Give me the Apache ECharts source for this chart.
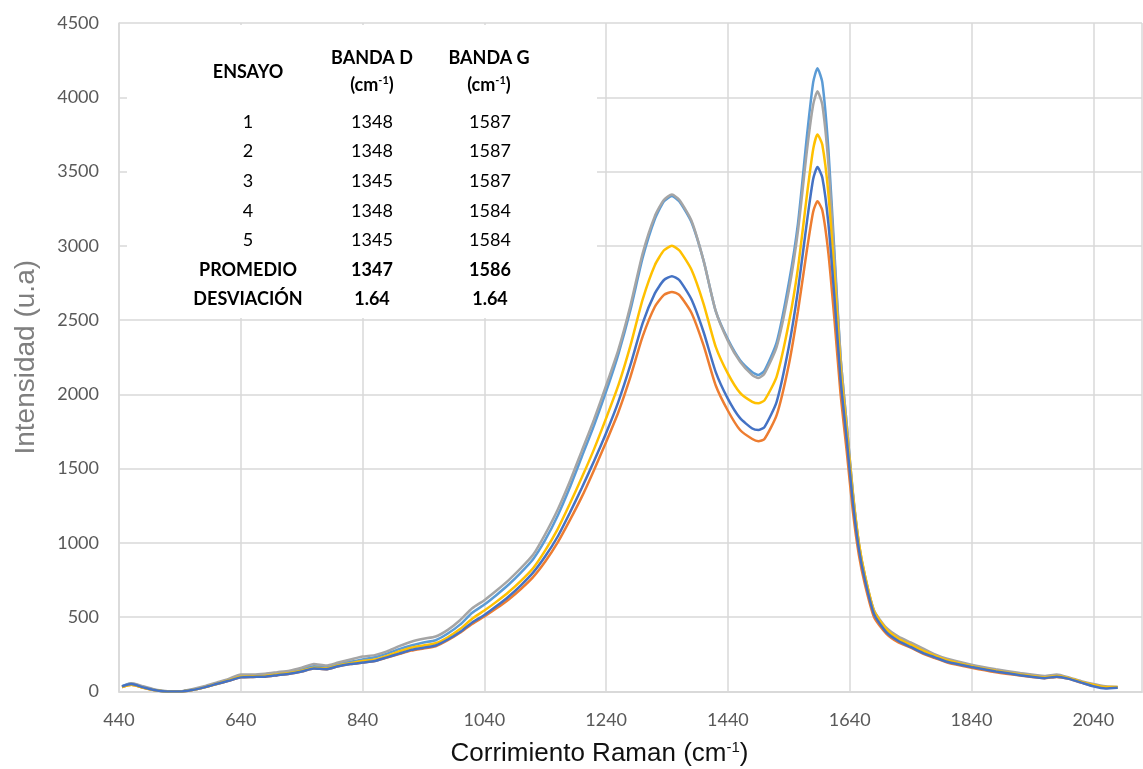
<!DOCTYPE html>
<html>
<head>
<meta charset="utf-8">
<title>Raman</title>
<style>
html, body { margin: 0; padding: 0; background: #ffffff; }
#chart { width: 1143px; height: 769px; }
</style>
</head>
<body>
<div id="chart"></div>
<script src="https://cdn.jsdelivr.net/npm/echarts@6/dist/echarts.min.js"></script>
<script>
// wavenumber (cm-1), shared by all runs
var xs = [445,460,480,500,520,540,560,580,600,620,
  640,660,680,700,720,740,760,780,800,820,
  840,860,880,900,920,940,960,980,1000,1020,
  1040,1060,1080,1100,1120,1140,1160,1180,1200,1220,
  1240,1260,1280,1300,1320,1335,1348,1360,1380,1400,
  1420,1440,1460,1480,1490,1500,1520,1540,1555,1570,
  1580,1587,1595,1605,1615,1625,1635,1645,1655,1665,
  1680,1700,1720,1740,1760,1780,1800,1840,1880,1920,
  1960,1980,2000,2020,2040,2060,2080];

var orange = [30,45,25,8,0,0,10,28,50,72,
  95,98,100,110,120,135,155,150,170,185,
  195,205,228,252,275,290,305,345,395,455,
  505,560,620,690,770,875,1000,1150,1310,1490,
  1680,1880,2120,2390,2590,2670,2690,2670,2550,2330,
  2060,1890,1760,1700,1685,1700,1860,2200,2560,2980,
  3230,3300,3240,2950,2500,2000,1620,1220,920,720,
  500,390,330,295,255,225,195,160,130,108,
  90,98,85,60,38,25,28];

var gris = [30,55,35,12,2,0,15,35,60,85,
  115,115,120,130,140,160,185,175,195,215,
  235,245,270,305,335,355,370,415,480,560,
  615,680,750,830,920,1060,1220,1410,1620,1830,
  2060,2300,2600,2950,3200,3310,3345,3310,3170,2900,
  2560,2360,2220,2130,2110,2140,2320,2700,3100,3650,
  3950,4040,3950,3550,2900,2250,1800,1350,1000,780,
  545,430,370,330,290,250,220,180,150,125,
  105,115,95,70,50,35,30];

var celeste = [35,55,30,10,0,0,12,30,55,80,
  105,108,112,120,130,150,170,165,185,200,
  215,230,255,285,310,330,345,390,450,530,
  585,650,720,800,890,1020,1180,1370,1580,1790,
  2020,2270,2570,2920,3180,3300,3335,3300,3160,2900,
  2560,2370,2230,2150,2130,2160,2350,2750,3150,3750,
  4100,4195,4100,3650,2950,2250,1800,1340,990,770,
  540,420,360,320,280,245,215,175,145,120,
  100,110,90,65,45,30,25];

var amarillo = [30,45,25,8,0,0,10,28,50,75,
  100,102,105,115,125,140,160,155,175,190,
  205,215,240,270,295,310,325,365,420,490,
  545,605,670,745,830,950,1090,1260,1440,1630,
  1840,2060,2330,2640,2870,2970,3000,2970,2840,2610,
  2320,2140,2010,1950,1940,1960,2120,2480,2850,3350,
  3650,3750,3680,3350,2800,2180,1760,1330,1000,780,
  540,420,355,315,275,240,210,170,140,115,
  95,105,90,65,45,30,30];

var azul = [35,50,28,8,0,0,10,28,50,72,
  95,98,100,110,120,135,155,150,170,185,
  195,205,230,255,280,295,310,350,400,465,
  515,575,640,715,800,910,1040,1200,1370,1550,
  1740,1950,2200,2480,2680,2770,2795,2770,2640,2420,
  2150,1970,1840,1770,1760,1780,1950,2320,2700,3170,
  3450,3530,3460,3150,2650,2100,1700,1280,960,750,
  520,400,340,300,260,230,200,165,135,110,
  90,100,85,60,35,20,25];

// table of band positions
var tablaEnsayo = ['1','2','3','4','5','PROMEDIO','DESVIACIÓN'];
var tablaD = ['1348','1348','1345','1348','1345','1347','1.64'];
var tablaG = ['1587','1587','1587','1584','1584','1586','1.64'];

var yTicks = [0,500,1000,1500,2000,2500,3000,3500,4000,4500];

function pares(vals){
  return xs.map(function(x, i){ return [x, vals[i]]; });
}

var seriesDef = [
  {name:'Ensayo 2', color:'#ED7D31', data:orange},
  {name:'Ensayo 5', color:'#5B9BD5', data:celeste},
  {name:'Ensayo 3', color:'#A5A5A5', data:gris},
  {name:'Ensayo 4', color:'#FFC000', data:amarillo},
  {name:'Ensayo 1', color:'#4472C4', data:azul}
];

var series = seriesDef.map(function(s){
  return {
    name: s.name,
    type: 'line',
    showSymbol: false,
    smooth: 0.2,
    lineStyle: {color: s.color, width: 2.5},
    itemStyle: {color: s.color},
    data: pares(s.data)
  };
});

// table drawn over the plot (white box like the pasted image)
var fTabla = '18px Lato';
var fTablaB = 'bold 18px Lato';
var elems = [{
  type: 'rect',
  shape: {x: 127, y: 25, width: 470, height: 293},
  style: {fill: '#ffffff'},
  z: 10
}];
function txt(t, x, y, font, rich){
  var st = {text: t, x: x, y: y, font: font, fill: '#000000',
    textAlign: 'center', textVerticalAlign: 'middle', align: 'center', verticalAlign: 'middle'};
  if (rich) st.rich = rich;
  return {type: 'text', style: st, z: 11};
}
var supRich = {s: {font: 'bold 11px Lato', fill: '#000000', padding: [0, 0, 9, 0]}};
elems.push(txt('ENSAYO', 248, 72, fTablaB));
elems.push(txt('BANDA D', 372, 58, fTablaB));
elems.push(txt('(cm{s|-1})', 372, 85, fTablaB, supRich));
elems.push(txt('BANDA G', 489, 58, fTablaB));
elems.push(txt('(cm{s|-1})', 489, 85, fTablaB, supRich));
for (var i = 0; i < tablaEnsayo.length; i++) {
  var y = 122 + i * 29.6;
  var f = i >= 5 ? fTablaB : fTabla;
  elems.push(txt(tablaEnsayo[i], 248, y, f));
  elems.push(txt(tablaD[i], 372, y, f));
  elems.push(txt(tablaG[i], 490, y, f));
}

function plain(v){ return String(v); }

var chart = echarts.init(document.getElementById('chart'));
var option = {
  backgroundColor: '#ffffff',
  animation: false,
  grid: {left: 119, right: 1, top: 23, bottom: 77.5, containLabel: false, outerBoundsMode: 'none'},
  xAxis: {
    type: 'value',
    min: 440,
    max: 2120,
    interval: 200,
    name: 'Corrimiento Raman (cm{s|-1})',
    nameLocation: 'middle',
    nameGap: 49,
    nameTextStyle: {
      fontFamily: 'Liberation Sans', fontSize: 26, color: '#111111',
      padding: [0, 62, 0, 0],
      rich: {s: {fontFamily: 'Liberation Sans', fontSize: 15, color: '#111111', padding: [0, 0, 12, 0]}}
    },
    axisLine: {show: true, lineStyle: {color: '#d9d9d9', width: 2}},
    axisTick: {show: false},
    axisLabel: {fontFamily: 'Lato', fontSize: 18, color: '#595959', margin: 20, showMaxLabel: false, formatter: plain},
    splitLine: {show: true, lineStyle: {color: '#d9d9d9', width: 1.5}}
  },
  yAxis: {
    type: 'value',
    min: yTicks[0],
    max: yTicks[yTicks.length - 1],
    interval: 500,
    name: 'Intensidad (u.a)',
    nameLocation: 'middle',
    nameGap: 79,
    nameTextStyle: {fontFamily: 'Liberation Sans', fontSize: 28, color: '#7f7f7f'},
    axisLine: {show: true, lineStyle: {color: '#d9d9d9', width: 1.5}},
    axisTick: {show: false},
    axisLabel: {fontFamily: 'Lato', fontSize: 18, color: '#595959', margin: 20, formatter: plain},
    splitLine: {show: true, lineStyle: {color: '#d9d9d9', width: 1.5}}
  },
  graphic: {elements: elems},
  series: series
};
chart.setOption(option);
</script>
</body>
</html>
